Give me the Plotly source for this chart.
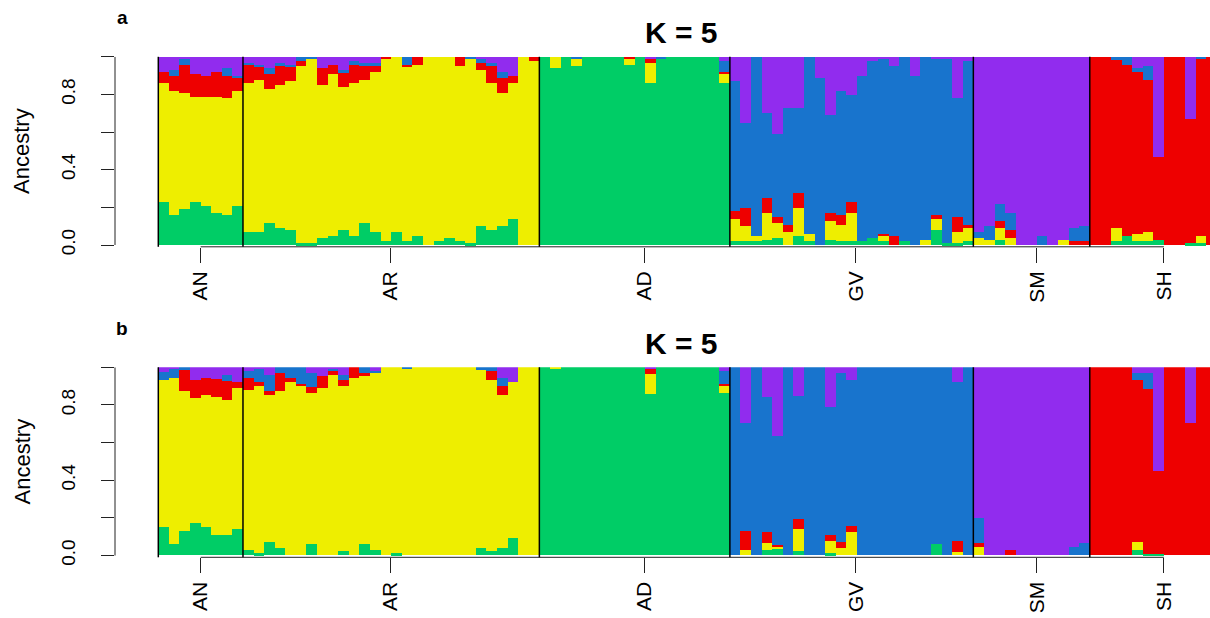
import plotly.graph_objects as go

# ---------------- data ----------------
groups = ["AN", "AR", "AD", "GV", "SM", "SH"]
group_sizes = [8, 28, 18, 23, 11, 12]
label_pos = [4.0, 21.9, 45.9, 65.9, 83.0, 95.0]   # tick positions in bar units
yticks = [0, 0.2, 0.4, 0.6, 0.8, 1.0]
ytick_text = ["0.0", "", "0.4", "", "0.8", ""]
cluster_names = ["green", "yellow", "red", "blue", "purple"]
cluster_colors = ["#00CD66", "#EEEE00", "#EE0000", "#1874CD", "#912CEE"]

# panel a (K = 5), per individual: AN | AR | AD | GV | SM | SH
a_green = [.23, .16, .19, .23, .21, .17, .16, .21,
           .07, .07, .12, .09, .08, .01, .01, .04, .05, .08, .05, .12, .07, .02, .07, .02, .05, 0, .02, .04, .02, .01, .10, .08, .10, .14, 0, 0,
           1, .94, 1, .95, 1, 1, 1, 1, .96, 1, .86, .99, 1, 1, 1, 1, 1, .86,
           .02, .02, .02, .03, .04, 0, .05, .02, 0, .03, .02, .02, .02, .04, .02, 0, .02, 0, 0, .08, .01, .01, .02,
           0, 0, .03, 0, 0, 0, 0, 0, 0, 0, 0,
           0, 0, .02, .05, .02, .02, .03, 0, 0, .01, .01, 0]
a_yellow = [.63, .66, .62, .56, .58, .62, .62, .61,
            .79, .81, .71, .76, .79, .94, .98, .81, .86, .76, .81, .76, .85, .97, .93, .93, .91, 1, .98, .96, .93, .98, .83, .78, .71, .72, 1, .98,
            0, .06, 0, .04, 0, 0, 0, 0, .03, 0, .11, 0, 0, 0, 0, 0, 0, .05,
            .12, .08, .03, .14, .08, .07, .15, .04, 0, .10, .09, .15, 0, 0, .03, 0, 0, 0, .03, .06, 0, .06, .07,
            .04, .03, .06, .04, 0, 0, 0, 0, .03, 0, 0,
            0, 0, .07, 0, .04, .05, 0, 0, 0, 0, .04, 0]
a_red = [.06, .08, .15, .12, .11, .13, .12, .07,
         .10, .07, .08, .10, .08, .03, 0, .09, .05, .08, .10, .07, .03, .01, 0, .01, .04, 0, 0, 0, .05, 0, .04, .09, .08, .04, 0, .02,
         0, 0, 0, 0, 0, 0, 0, 0, .01, 0, .02, 0, 0, 0, 0, 0, 0, .01,
         .04, .10, 0, .08, .03, .04, .08, 0, 0, .04, .05, .06, 0, 0, .01, .05, 0, 0, 0, .02, 0, .08, .02,
         0, 0, .04, .04, 0, 0, 0, 0, 0, .02, .02,
         1, 1, .895, .91, .86, .81, .44, 1, 1, .66, .94, 1]
a_blue = [0, .03, .03, 0, 0, 0, .04, .01,
          .01, .01, .03, .02, .01, .02, .01, 0, 0, .01, .02, .02, .02, 0, 0, .04, 0, 0, 0, 0, 0, .01, .02, .02, .03, 0, 0, 0,
          0, 0, 0, .01, 0, 0, 0, 0, 0, 0, 0, .01, 0, 0, 0, 0, 0, .06,
          .69, .45, .95, .45, .44, .62, .45, .94, .89, .52, .66, .57, .88, .94, .93, .90, .98, .90, .97, .83, .98, .63, .87,
          .03, .07, .09, .09, 0, 0, .05, 0, 0, .07, .08,
          0, 0, .015, .04, .02, .07, 0, 0, 0, 0, .01, 0]
a_purple = [.08, .07, .01, .09, .10, .08, .06, .10,
            .03, .04, .06, .03, .04, 0, 0, .06, .04, .07, .02, .03, .03, 0, 0, 0, 0, 0, 0, 0, 0, 0, .01, .03, .08, .10, 0, 0,
            0, 0, 0, 0, 0, 0, 0, 0, 0, 0, .01, 0, 0, 0, 0, 0, 0, .02,
            .13, .35, 0, .30, .41, .27, .27, 0, .11, .31, .18, .20, .10, .02, .01, .05, 0, .10, 0, .01, .01, .22, .02,
            .93, .90, .78, .83, 1, 1, .95, 1, .97, .91, .90,
            0, 0, 0, 0, .06, .05, .53, 0, 0, .33, 0, 0]

# panel b (K = 5)
b_green = [.15, .06, .13, .17, .15, .11, .105, .14,
           .03, .01, .07, .04, 0, 0, .06, 0, 0, .02, 0, .06, .03, 0, .01, 0, 0, 0, 0, 0, 0, 0, .04, .02, .04, .09, 0, 0,
           1, .99, 1, 1, 1, 1, 1, 1, 1, 1, .855, 1, 1, 1, 1, 1, 1, .86,
           0, 0, 0, .03, .035, 0, .02, 0, 0, .01, 0, 0, 0, 0, 0, 0, 0, 0, 0, .06, 0, 0, 0,
           0, 0, 0, 0, 0, 0, 0, 0, 0, 0, 0,
           0, 0, 0, 0, .025, .005, .005, 0, 0, 0, 0, 0]
b_yellow = [.78, .88, .74, .665, .70, .73, .72, .75,
            .85, .89, .78, .83, .92, .90, .80, .89, .96, .88, .94, .89, .94, 1, .99, .99, 1, 1, 1, 1, 1, 1, .945, .91, .81, .83, 1, 1,
            0, .01, 0, 0, 0, 0, 0, 0, 0, 0, .11, 0, 0, 0, 0, 0, 0, .04,
            0, .03, 0, .035, .01, 0, .12, 0, 0, .065, .04, .125, 0, 0, 0, 0, 0, 0, 0, 0, 0, .015, 0,
            .045, 0, 0, 0, 0, 0, 0, 0, 0, 0, 0,
            0, 0, 0, 0, .045, 0, 0, 0, 0, 0, 0, 0]
b_red = [0, 0, .115, .095, .09, .095, .10, .03,
         .06, .02, .02, .10, .02, .01, .035, .06, .02, .03, .06, .02, 0, 0, 0, 0, 0, 0, 0, 0, 0, 0, 0, .05, .05, 0, 0, 0,
         0, 0, 0, 0, 0, 0, 0, 0, 0, 0, .025, 0, 0, 0, 0, 0, 0, .01,
         0, .10, 0, .06, .01, 0, .05, 0, 0, .03, .03, .03, 0, 0, 0, 0, 0, 0, 0, 0, 0, .06, 0,
         .02, 0, 0, .03, 0, 0, 0, 0, 0, 0, 0,
         1, 1, 1, 1, .86, .88, .445, 1, 1, .70, 1, 1]
b_blue = [.045, .05, .015, 0, 0, 0, .03, 0,
          .04, .07, .09, .03, .06, .09, .075, 0, .01, .03, 0, .03, .01, 0, 0, .01, 0, 0, 0, 0, 0, 0, .015, .02, .04, 0, 0, 0,
          0, 0, 0, 0, 0, 0, 0, 0, 0, 0, 0, 0, 0, 0, 0, 0, 0, .07,
          1, .575, 1, .715, .58, 1, .655, 1, 1, .68, .90, .775, 1, 1, 1, 1, 1, 1, 1, .94, 1, .845, 1,
          .135, 0, 0, 0, 0, 0, 0, 0, 0, .045, .065,
          0, 0, 0, 0, .04, .085, 0, 0, 0, 0, 0, 0]
b_purple = [.025, .01, 0, .07, .06, .065, .045, .08,
            .02, .01, .04, 0, 0, 0, .03, .05, .01, .04, 0, 0, .02, 0, 0, 0, 0, 0, 0, 0, 0, 0, 0, 0, .06, .08, 0, 0,
            0, 0, 0, 0, 0, 0, 0, 0, 0, 0, .01, 0, 0, 0, 0, 0, 0, .02,
            0, .295, 0, .16, .365, 0, .155, 0, 0, .215, .03, .07, 0, 0, 0, 0, 0, 0, 0, 0, 0, .08, 0,
            .80, 1, 1, .97, 1, 1, 1, 1, 1, .955, .935,
            0, 0, 0, 0, .03, .03, .55, 0, 0, .30, 0, 0]

panels = [
    ("a", [a_green, a_yellow, a_red, a_blue, a_purple]),
    ("b", [b_green, b_yellow, b_red, b_blue, b_purple]),
]

# ---------------- layout geometry ----------------
W, H = 1210, 618
FONT = "Liberation Sans, Arial, sans-serif"
bar_px = 10.585
x_left_px, bars_left_px = 115.0, 158.3
x_range = [-(bars_left_px - x_left_px) / bar_px, (W - bars_left_px) / bar_px]
# (top px of y=1, px of y=0, bottom px of domain)
panel_px = [(56.8, 245.0, 246.8), (367.3, 555.5, 557.3)]

boundaries = [0]
for s in group_sizes:
    boundaries.append(boundaries[-1] + s)

fig = go.Figure()
layout = dict(
    width=W, height=H, margin=dict(l=0, r=0, t=0, b=0, autoexpand=False),
    paper_bgcolor="white", plot_bgcolor="white",
    barmode="stack", bargap=0, showlegend=False,
    font=dict(family=FONT, color="black"),
)
shapes, annotations = [], []

for pi, (tag, comps) in enumerate(panels):
    sfx = "" if pi == 0 else str(pi + 1)
    xa, ya = "x" + sfx, "y" + sfx
    top_px, zero_px, bot_px = panel_px[pi]
    unit = zero_px - top_px
    ymin = -(bot_px - zero_px) / unit
    n = len(comps[0])
    xs = [i + 0.5 for i in range(n)]
    for name, col, vals in zip(cluster_names, cluster_colors, comps):
        fig.add_trace(go.Bar(
            x=xs, y=vals, width=1, name=name, marker=dict(color=col, line=dict(width=0)),
            xaxis=xa, yaxis=ya, hoverinfo="skip"))
    layout["xaxis" + sfx] = dict(
        domain=[x_left_px / W, 1], range=x_range, anchor=ya, automargin=False,
        showgrid=False, zeroline=False, showline=False,
        tickmode="array", tickvals=label_pos, ticktext=groups, tickangle=-90,
        ticks="outside", ticklen=15, tickwidth=1, tickcolor="#222",
        tickfont=dict(size=21, family=FONT, color="black"), ticklabelstandoff=0)
    layout["yaxis" + sfx] = dict(
        domain=[1 - bot_px / H, 1 - top_px / H], range=[ymin, 1], anchor=xa, automargin=False,
        showgrid=False, zeroline=False, showline=False,
        tickmode="array", tickvals=yticks, ticktext=ytick_text, tickangle=-90,
        ticks="outside", ticklen=13, tickwidth=1, tickcolor="#222",
        tickfont=dict(size=19, family=FONT, color="black"), ticklabelstandoff=18)
    # y axis line (0..1)
    shapes.append(dict(type="line", xref=xa + " domain", yref=ya, x0=0, x1=0, y0=0, y1=1,
                       line=dict(color="#222", width=1)))
    # x axis line from first to last group tick
    shapes.append(dict(type="line", xref=xa, yref=ya + " domain", x0=label_pos[0], x1=label_pos[-1],
                       y0=0, y1=0, line=dict(color="#222", width=1)))
    # group separators
    for bnd in boundaries:
        shapes.append(dict(type="line", xref=xa, yref=ya + " domain", x0=bnd, x1=bnd, y0=0, y1=1,
                           line=dict(color="black", width=1.5)))
    mid_px = (top_px + zero_px) / 2
    annotations.append(dict(text="Ancestry", xref="paper", yref="paper", x=22 / W, y=1 - mid_px / H,
                            textangle=-90, showarrow=False, xanchor="center", yanchor="middle",
                            font=dict(size=22, family=FONT, color="black")))
    annotations.append(dict(text="<b>K = 5</b>", xref="paper", yref="paper", x=681 / W,
                            y=1 - (top_px - 24) / H, showarrow=False, xanchor="center", yanchor="middle",
                            font=dict(size=30, family=FONT, color="black")))
    annotations.append(dict(text="<b>" + tag + "</b>", xref="paper", yref="paper", x=122 / W,
                            y=1 - (top_px - 39) / H, showarrow=False, xanchor="center", yanchor="middle",
                            font=dict(size=19, family=FONT, color="black")))

layout["shapes"] = shapes
layout["annotations"] = annotations
fig.update_layout(**layout)
fig.write_html("out.html")
